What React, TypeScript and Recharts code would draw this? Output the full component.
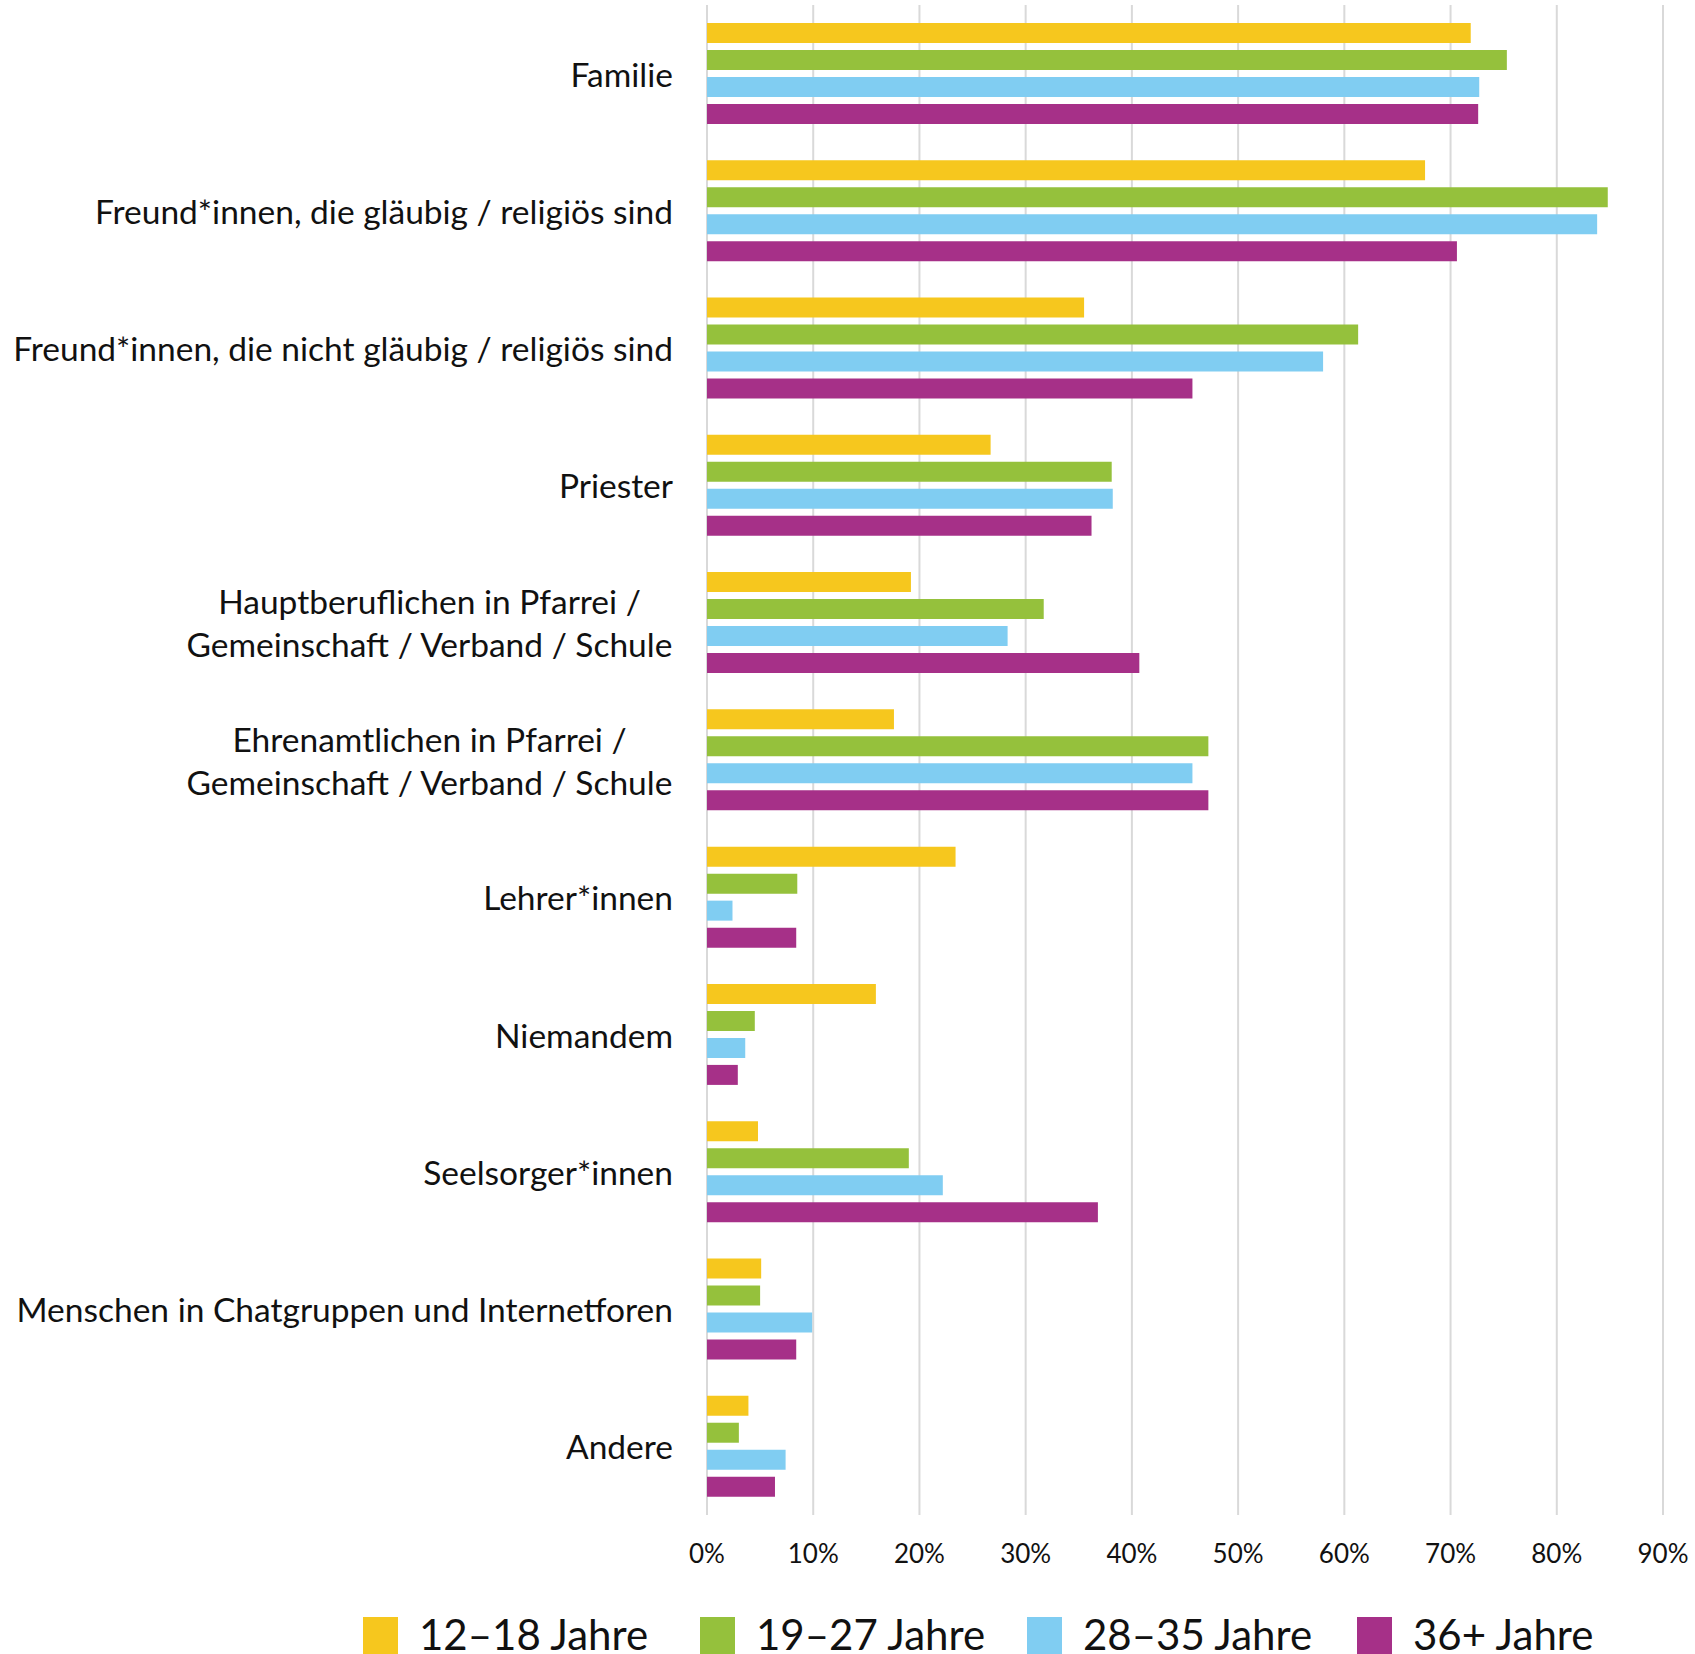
import React from 'react';
import { BarChart, Bar, XAxis, YAxis, CartesianGrid } from 'recharts';

const categories = [
  'Familie',
  'Freund*innen, die gläubig / religiös sind',
  'Freund*innen, die nicht gläubig / religiös sind',
  'Priester',
  'Hauptberuflichen in Pfarrei /\nGemeinschaft / Verband / Schule',
  'Ehrenamtlichen in Pfarrei /\nGemeinschaft / Verband / Schule',
  'Lehrer*innen',
  'Niemandem',
  'Seelsorger*innen',
  'Menschen in Chatgruppen und Internetforen',
  'Andere',
];

const age12to18 = [71.9, 67.6, 35.5, 26.7, 19.2, 17.6, 23.4, 15.9, 4.8, 5.1, 3.9];
const age19to27 = [75.3, 84.8, 61.3, 38.1, 31.7, 47.2, 8.5, 4.5, 19.0, 5.0, 3.0];
const age28to35 = [72.7, 83.8, 58.0, 38.2, 28.3, 45.7, 2.4, 3.6, 22.2, 9.9, 7.4];
const age36plus = [72.6, 70.6, 45.7, 36.2, 40.7, 47.2, 8.4, 2.9, 36.8, 8.4, 6.4];

const xTicks = [0, 10, 20, 30, 40, 50, 60, 70, 80, 90];

const SERIES = [
  { key: 'a', label: '12–18 Jahre', color: '#F6C71E', values: age12to18 },
  { key: 'b', label: '19–27 Jahre', color: '#95C13C', values: age19to27 },
  { key: 'c', label: '28–35 Jahre', color: '#80CDF2', values: age28to35 },
  { key: 'd', label: '36+ Jahre', color: '#A63088', values: age36plus },
];

const data = categories.map((name, i) => {
  const row: { [k: string]: string | number } = { name };
  SERIES.forEach((s) => {
    row[s.key] = s.values[i];
  });
  return row;
});

const FONT = 'Lato, "Open Sans", sans-serif';
const LABEL_SIZE = 33.5;
const LINE_HEIGHT = 43;

// measure text so multi-line labels can be centred against each other
let ctx: CanvasRenderingContext2D | null = null;
const measure = (text: string) => {
  if (!ctx) ctx = document.createElement('canvas').getContext('2d');
  if (!ctx) return text.length * LABEL_SIZE * 0.5;
  ctx.font = `${LABEL_SIZE}px ${FONT}`;
  return ctx.measureText(text).width;
};

const CategoryTick = ({ x, y, payload }: any) => {
  const lines = String(payload.value).split('\n');
  const widest = Math.max(...lines.map(measure));
  const cx = x - 26 - widest / 2;
  const startY = y - ((lines.length - 1) * LINE_HEIGHT) / 2;
  return (
    <text
      x={cx}
      y={startY}
      textAnchor="middle"
      dominantBaseline="central"
      fontSize={LABEL_SIZE}
      fontFamily={FONT}
      fill="#111"
    >
      {lines.map((line, i) => (
        <tspan key={i} x={cx} dy={i === 0 ? 0 : LINE_HEIGHT}>
          {line}
        </tspan>
      ))}
    </text>
  );
};

const PercentTick = ({ x, y, payload }: any) => (
  <text
    x={x}
    y={y}
    textAnchor="middle"
    dominantBaseline="central"
    fontSize={26}
    fontFamily={FONT}
    fill="#111"
  >
    {`${payload.value}%`}
  </text>
);

export default function App() {
  return (
    <div
      style={{
        position: 'absolute',
        left: 0,
        top: 0,
        width: 1695,
        height: 1654,
        overflow: 'hidden',
        background: '#fff',
      }}
    >
      <BarChart
        width={1695}
        height={1654}
        data={data}
        layout="vertical"
        margin={{ top: 5, right: 32, left: 0, bottom: 0 }}
        barSize={20}
        barGap={7}
      >
        <CartesianGrid horizontal={false} stroke="#d9d9d9" strokeWidth={2} />
        <XAxis
          type="number"
          domain={[0, 90]}
          ticks={xTicks}
          axisLine={false}
          tickLine={false}
          tick={<PercentTick />}
          tickMargin={32}
          height={139}
          interval={0}
        />
        <YAxis
          type="category"
          dataKey="name"
          width={707}
          axisLine={false}
          tickLine={false}
          tick={<CategoryTick />}
          interval={0}
        />
        {SERIES.map((s) => (
          <Bar key={s.key} dataKey={s.key} fill={s.color} isAnimationActive={false} />
        ))}
      </BarChart>

      <div
        style={{
          position: 'absolute',
          top: 1617,
          left: 0,
          width: 1695,
          height: 40,
          fontFamily: FONT,
          fontSize: 42,
          color: '#111',
        }}
      >
        {SERIES.map((s, i) => (
          <div
            key={s.key}
            style={{
              position: 'absolute',
              left: [363, 700, 1027, 1357][i],
              top: 0,
              display: 'flex',
              alignItems: 'flex-start',
              whiteSpace: 'nowrap',
            }}
          >
            <div style={{ width: 35, height: 37, background: s.color }} />
            <span style={{ marginLeft: 21, lineHeight: '42px', marginTop: -4 }}>{s.label}</span>
          </div>
        ))}
      </div>
    </div>
  );
}
